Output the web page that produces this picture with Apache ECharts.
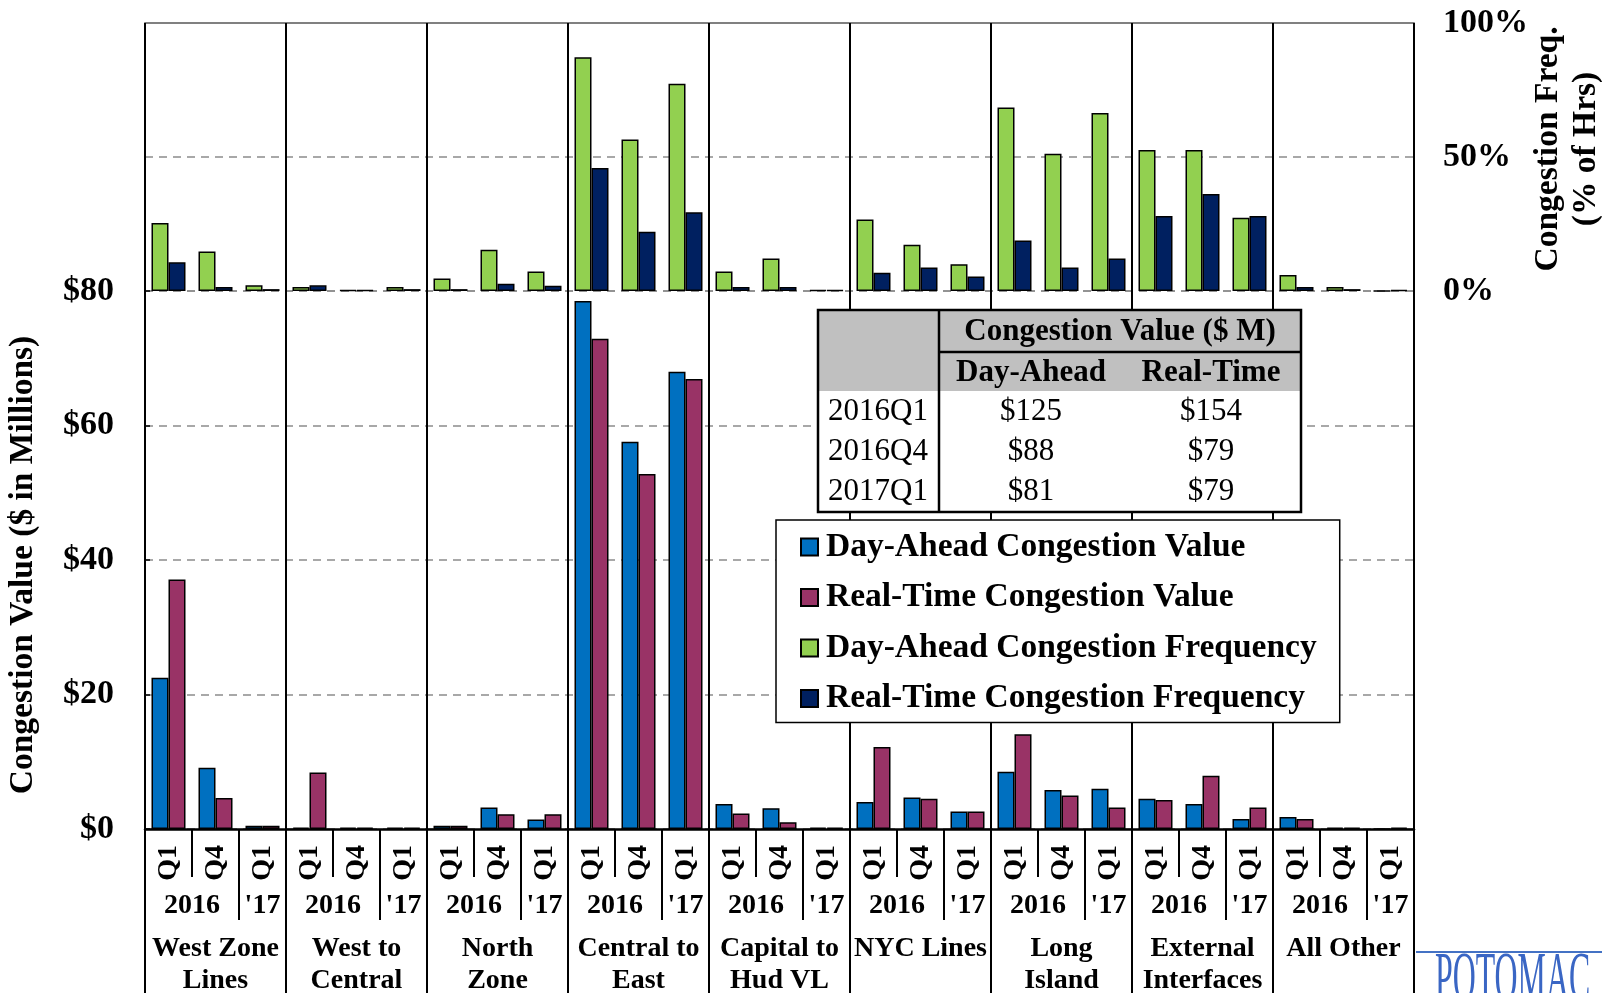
<!DOCTYPE html>
<html>
<head>
<meta charset="utf-8">
<script src="https://cdn.jsdelivr.net/npm/echarts@6/dist/echarts.min.js"></script>
<style>
  html, body { margin: 0; padding: 0; background: #fff; }
  #chart { width: 1602px; height: 993px; }
</style>
</head>
<body>
<div id="chart"></div>
<script>
// Interfaces (groups), each with three quarters
const groups = ['West Zone\nLines', 'West to\nCentral', 'North\nZone', 'Central to\nEast',
  'Capital to\nHud VL', 'NYC Lines', 'Long\nIsland', 'External\nInterfaces', 'All Other'];
const quarters = ['Q1', 'Q4', 'Q1'];
const yearLabels = ['2016', "'17"];

// Congestion value ($ millions), one entry per group × quarter
const daValue = [22.5, 9.1, 0.5,  0.2, 0.2, 0.2,  0.5, 3.2, 1.4,  78.5, 57.6, 68.0,
  3.7, 3.1, 0.2,  4.0, 4.7, 2.6,  8.5, 5.8, 6.0,  4.5, 3.7, 1.5,  1.8, 0.2, 0];
const rtValue = [37.1, 4.6, 0.5,  8.4, 0.2, 0.2,  0.5, 2.2, 2.2,  72.9, 52.8, 66.9,
  2.3, 1.0, 0.2,  12.2, 4.5, 2.6,  14.1, 5.0, 3.2,  4.3, 7.9, 3.2,  1.5, 0.2, 0.2];

// Congestion frequency (% of hours)
const daFreq = [25.4, 14.7, 2.1,  1.5, 0.3, 1.5,  4.7, 15.4, 7.3,  87.2, 56.5, 77.3,
  7.3, 12.1, 0.3,  26.7, 17.3, 10.0,  68.5, 51.2, 66.4,  52.6, 52.6, 27.3,  6.0, 1.5, 0];
const rtFreq = [10.7, 1.5, 0.7,  2.1, 0.3, 0.7,  0.7, 2.7, 2.0,  45.9, 22.1, 29.4,
  1.5, 1.5, 0.3,  6.8, 8.8, 5.4,  18.8, 8.8, 12.1,  28.0, 36.2, 28.0,  1.5, 0.7, 0.4];

// Axis tick labels
const valueTicks = ['$0', '$20', '$40', '$60', '$80'];
const freqTicks = ['0%', '50%', '100%'];

// Summary table
const tableTitle = 'Congestion Value ($ M)';
const tableCols = ['Day-Ahead', 'Real-Time'];
const tableRows = ['2016Q1', '2016Q4', '2017Q1'];
const tableDA = ['$125', '$88', '$81'];
const tableRT = ['$154', '$79', '$79'];

const FONT = 'Liberation Serif, Times New Roman, serif';
const cats = [];
groups.forEach((g, gi) => quarters.forEach((q, qi) => cats.push('c' + gi + '_' + qi)));

const chart = echarts.init(document.getElementById('chart'), null, { renderer: 'canvas' });

const dashed = { color: '#8c8c8c', width: 1.5, type: [8, 6] };
const barBorder = { borderColor: '#000', borderWidth: 1.5 };

chart.setOption({
  animation: false,
  backgroundColor: '#fff',
  grid: [
    { left: 145, right: 188, top: 23, height: 268 },
    { left: 145, right: 188, top: 291, height: 538 }
  ],
  xAxis: [
    { type: 'category', gridIndex: 0, data: cats, position: 'top',
      axisLine: { show: true, onZero: false, lineStyle: { color: '#808080', width: 2 } },
      axisTick: { show: false }, axisLabel: { show: false }, splitLine: { show: false } },
    { type: 'category', gridIndex: 1, data: cats,
      axisLine: { show: true, onZero: false, lineStyle: { color: '#000', width: 2.5 } },
      axisTick: { show: false },
      axisLabel: { interval: 0, rotate: 90, margin: 16, color: '#000',
        fontFamily: FONT, fontWeight: 'bold', fontSize: 28,
        formatter: (v, i) => quarters[i % 3] },
      splitLine: { show: false } }
  ],
  yAxis: [
    { type: 'value', gridIndex: 0, position: 'right', min: 0, max: 100, interval: 50,
      axisLine: { show: false }, axisTick: { show: false },
      axisLabel: { margin: 29, color: '#000', fontFamily: FONT, fontWeight: 'bold', fontSize: 34,
        formatter: v => freqTicks[Math.round(v / 50)] },
      splitLine: { show: true, showMaxLine: false, lineStyle: dashed } },
    { type: 'value', gridIndex: 1, position: 'left', min: 0, max: 80, interval: 20,
      axisLine: { show: true, lineStyle: { color: '#000', width: 2 } },
      axisTick: { show: true, inside: true, length: 5, lineStyle: { color: '#000', width: 1.5 } },
      axisLabel: { margin: 31, color: '#000', fontFamily: FONT, fontWeight: 'bold', fontSize: 34,
        formatter: v => valueTicks[Math.round(v / 20)] },
      splitLine: { show: true, lineStyle: dashed } }
  ],
  legend: {
    orient: 'vertical', left: 776, top: 520, z: 10,
    padding: [10, 23, 7, 24], itemGap: 16.5, itemWidth: 17, itemHeight: 17,
    backgroundColor: '#fff', borderColor: '#000', borderWidth: 1.5,
    icon: 'rect',
    textStyle: { fontFamily: FONT, fontWeight: 'bold', fontSize: 33.5, lineHeight: 34, color: '#000',
      padding: [0, 0, 0, 3] },
    data: ['Day-Ahead Congestion Value', 'Real-Time Congestion Value',
      'Day-Ahead Congestion Frequency', 'Real-Time Congestion Frequency']
  },
  series: [
    { name: 'Day-Ahead Congestion Value', type: 'bar', xAxisIndex: 1, yAxisIndex: 1,
      data: daValue, barWidth: 17, barGap: '0%', itemStyle: Object.assign({ color: '#0070C0' }, barBorder) },
    { name: 'Real-Time Congestion Value', type: 'bar', xAxisIndex: 1, yAxisIndex: 1,
      data: rtValue, barWidth: 17, barGap: '0%', itemStyle: Object.assign({ color: '#993366' }, barBorder) },
    { name: 'Day-Ahead Congestion Frequency', type: 'bar', xAxisIndex: 0, yAxisIndex: 0,
      data: daFreq, barWidth: 17, barGap: '0%', itemStyle: Object.assign({ color: '#92D050' }, barBorder) },
    { name: 'Real-Time Congestion Frequency', type: 'bar', xAxisIndex: 0, yAxisIndex: 0,
      data: rtFreq, barWidth: 17, barGap: '0%', itemStyle: Object.assign({ color: '#002060' }, barBorder) }
  ]
});

// Category dividers, multi-level labels, axis titles, summary table and logo
const cx = i => chart.convertToPixel({ xAxisIndex: 1 }, i);
const band = cx(1) - cx(0);
const boundary = k => cx(0) - band / 2 + k * band;
const yTop = chart.convertToPixel({ yAxisIndex: 0 }, 100);
const yBase = chart.convertToPixel({ yAxisIndex: 1 }, 0);
const yMid0 = chart.convertToPixel({ yAxisIndex: 0 }, 50);
const yMid1 = chart.convertToPixel({ yAxisIndex: 1 }, 40);

const g = [];
const line = (x1, y1, x2, y2, w, c, z) => g.push({ type: 'line', z: z || 3,
  shape: { x1, y1, x2, y2 }, style: { stroke: c || '#000', lineWidth: w || 2 } });
const text = (x, y, s, o) => g.push(Object.assign({ type: 'text', z: 30, x, y,
  style: Object.assign({ text: s, fill: '#000', fontFamily: FONT, fontWeight: 'bold', fontSize: 28,
    align: 'center', verticalAlign: 'middle' }, o && o.style) }, o && o.el));

for (let k = 0; k <= cats.length; k++) {
  const x = Math.round(boundary(k));
  if (k % 3 === 0) line(x, yTop, x, 993, 2);
  else if (k % 3 === 1) line(x, yBase, x, yBase + 48, 2);
  else line(x, yBase, x, yBase + 91, 2);
}

groups.forEach((name, gi) => {
  text(boundary(gi * 3 + 1), yBase + 77, yearLabels[0]);
  text(cx(gi * 3 + 2), yBase + 77, yearLabels[1]);
  text(cx(gi * 3 + 1), yBase + 104, name, { style: { verticalAlign: 'top', lineHeight: 32 } });
});

// axis titles
text(23, yMid1 + 5, 'Congestion Value ($ in Millions)',
  { style: { fontSize: 33.5 }, el: { rotation: Math.PI / 2 } });
text(1548, yMid0 - 8, 'Congestion Freq.', { style: { fontSize: 33.5 }, el: { rotation: Math.PI / 2 } });
text(1586, yMid0 - 8, '(% of Hrs)', { style: { fontSize: 33.5 }, el: { rotation: Math.PI / 2 } });

// summary table (drawn above the plot dividers)
const T = { l: 818, r: 1301, t: 310, h1: 352, h2: 391, b: 512, c1: 939 };
g.push({ type: 'rect', z: 20, shape: { x: T.l, y: T.t, width: T.r - T.l, height: T.h2 - T.t },
  style: { fill: '#c0c0c0' } });
g.push({ type: 'rect', z: 20, shape: { x: T.l, y: T.h2, width: T.r - T.l, height: T.b - T.h2 },
  style: { fill: '#fff' } });
g.push({ type: 'rect', z: 25, shape: { x: T.l, y: T.t, width: T.r - T.l, height: T.b - T.t },
  style: { fill: null, stroke: '#000', lineWidth: 2.5 } });
line(T.c1, T.t, T.c1, T.b, 2.5, '#000', 25);
line(T.c1, T.h1, T.r, T.h1, 2.5, '#000', 25);
const colDA = 1031, colRT = 1211;
text((T.c1 + T.r) / 2, (T.t + T.h1) / 2 + 1, tableTitle, { style: { fontSize: 31 } });
text(colDA, (T.h1 + T.h2) / 2 + 1, tableCols[0], { style: { fontSize: 31 } });
text(colRT, (T.h1 + T.h2) / 2 + 1, tableCols[1], { style: { fontSize: 31 } });
tableRows.forEach((r, i) => {
  const y = T.h2 + 21 + i * 40;
  text(828, y, r, { style: { fontSize: 31, fontWeight: 'normal', align: 'left' } });
  text(colDA, y, tableDA[i], { style: { fontSize: 31, fontWeight: 'normal' } });
  text(colRT, y, tableRT[i], { style: { fontSize: 31, fontWeight: 'normal' } });
});

// logo
line(1416, 952, 1602, 952, 2, '#4472c4');
g.push({ type: 'text', z: 30, x: 1435, y: 947, scaleX: 0.455,
  style: { text: 'POTOMAC', fill: '#3a66c4', fontFamily: FONT, fontSize: 70,
    align: 'left', verticalAlign: 'top' } });

chart.setOption({ graphic: g });
</script>
</body>
</html>
